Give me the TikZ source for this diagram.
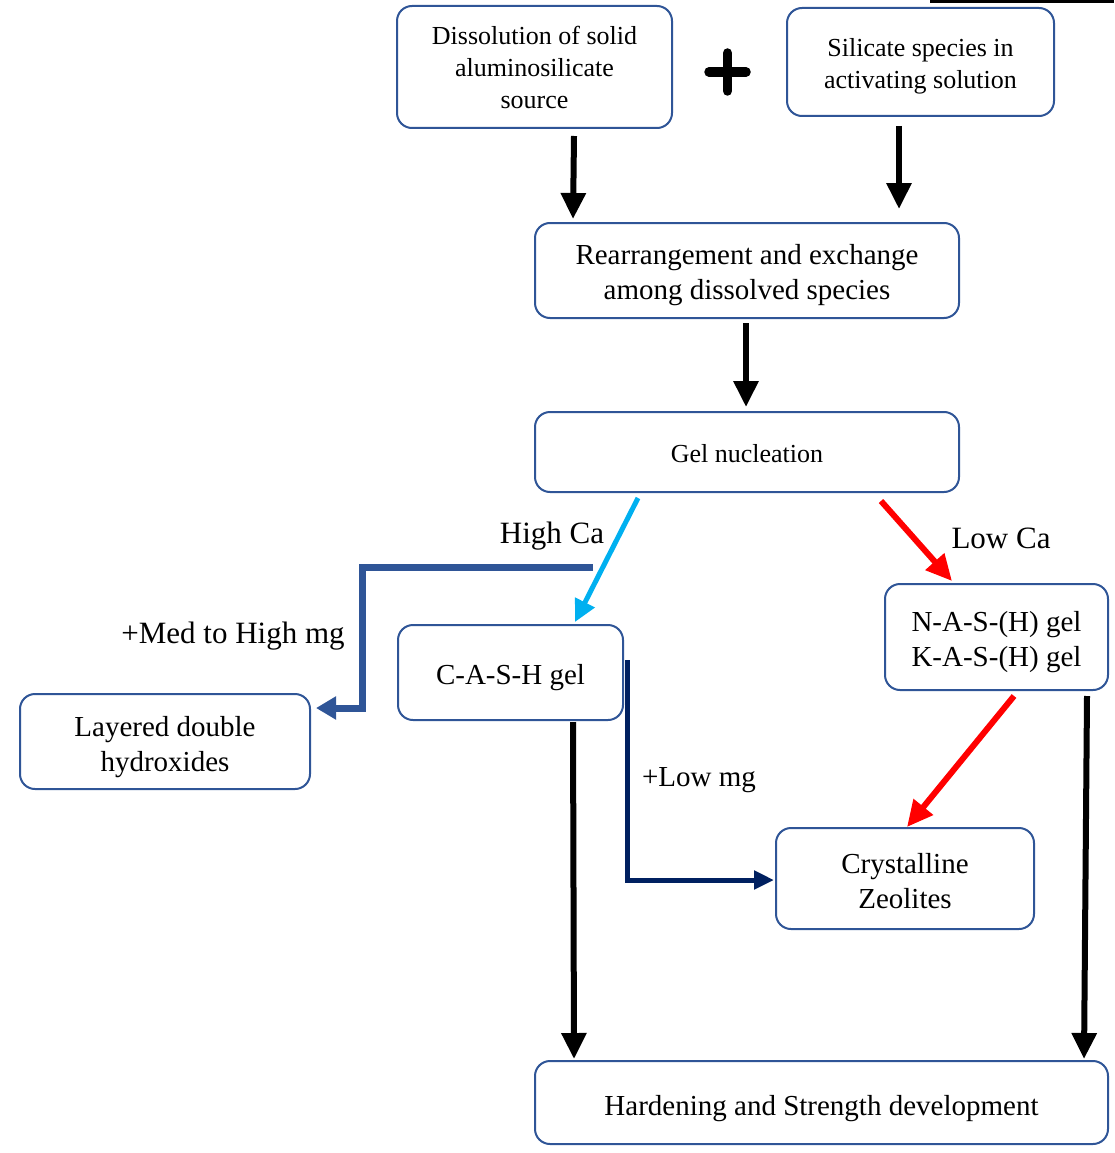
\documentclass[tikz,border=0pt]{standalone}
\usepackage{fontspec}
\setmainfont{Liberation Serif}
\usetikzlibrary{arrows.meta,calc}
\definecolor{boxblue}{HTML}{2F5597}
\definecolor{navyline}{HTML}{002060}
\definecolor{cyanline}{HTML}{00B0F0}
\definecolor{redline}{HTML}{FF0000}
\tikzset{
  box/.style={draw=boxblue, line width=2pt, rounded corners=15pt, fill=white,
    inner sep=0pt},
  txt/.style={align=center, inner sep=0pt},
  fsmall/.style={font=\fontsize{26}{32}\selectfont},
  fbig/.style={font=\fontsize{29}{35}\selectfont},
  blackarrow/.style={line width=6pt, black, -{Triangle[length=26pt,width=24pt]}},
  redarrow/.style={line width=6pt, redline, -{Triangle[length=26pt,width=24pt]}},
  cyanarrow/.style={line width=5pt, cyanline, -{Triangle[length=22pt,width=21pt]}},
  bluearrow/.style={line width=7pt, boxblue, -{Triangle[length=20pt,width=22pt]}},
  navyarrow/.style={line width=5pt, navyline, -{Triangle[length=20pt,width=18pt]}},
  lbl/.style={font=\fontsize{31}{36}\selectfont, inner sep=0pt},
}
\begin{document}
\begin{tikzpicture}[x=1pt,y=-1pt]
\useasboundingbox (0,0) rectangle (1114,1153);
\fill[black] (930,0) rectangle (1114,3.5);

\node[box, minimum width=275pt, minimum height=122pt,
  label={[txt, fsmall]center:{Dissolution of solid\\aluminosilicate\\source}}] (d1) at (534.5,67) {};
\node[box, minimum width=267pt, minimum height=108pt,
  label={[txt, fsmall, yshift=-4pt]center:{Silicate species in\\activating solution}}] (d2) at (920.5,62) {};
\node[box, minimum width=424pt, minimum height=95pt,
  label={[txt, fbig, yshift=-5pt]center:{Rearrangement and exchange\\among dissolved species}}] (re) at (747,270.5) {};
\node[box, minimum width=424pt, minimum height=80pt,
  label={[txt, fsmall, yshift=-2pt]center:{Gel nucleation}}] (gel) at (747,452) {};
\node[box, minimum width=225pt, minimum height=95pt,
  label={[txt, fbig, yshift=-5pt]center:{C-A-S-H gel}}] (cash) at (510.5,672.5) {};
\node[box, minimum width=223pt, minimum height=106pt,
  label={[txt, fbig, yshift=-5pt]center:{N-A-S-(H) gel\\K-A-S-(H) gel}}] (nash) at (996.5,637) {};
\node[box, minimum width=290pt, minimum height=95pt,
  label={[txt, fbig, yshift=-5.5pt]center:{Layered double\\hydroxides}}] (ldh) at (165,741.5) {};
\node[box, minimum width=258pt, minimum height=101pt,
  label={[txt, fbig, yshift=-3pt]center:{Crystalline\\Zeolites}}] (zeo) at (905,878.5) {};
\node[box, minimum width=573pt, minimum height=83pt,
  label={[txt, fbig, yshift=-6pt]center:{Hardening and Strength development}}] (hard) at (821.5,1102.5) {};

% plus sign
\draw[line width=9.5pt, line cap=round] (709,72) -- (746,72);
\draw[line width=9.5pt, line cap=round] (727.5,53) -- (727.5,91);

% labels
\node[lbl] (lhigh) at (552,536) {High Ca};
\node[lbl] (llow) at (1001,538) {Low Ca};
\node[lbl] (lmed) at (233,636) {+Med to High mg};
\node[lbl, font=\fontsize{29}{34}\selectfont] (llowmg) at (699,780) {+Low mg};

% connectors
\draw[blackarrow] ($(d1.south)+(39.5,7)$) -- ($(re.north west)+(39,-3)$);
\draw[blackarrow] ($(d2.south)+(-21.5,9)$) -- ($(re.north)+(152,-13)$);
\draw[blackarrow] ($(re.south)+(-1,4)$) -- ($(gel.north)+(-1,-4)$);
\draw[cyanarrow] ($(gel.south)+(-109,5)$) -- ($(cash.north)+(64.5,-2)$);
\draw[redarrow] ($(gel.south)+(134,8)$) -- ($(nash.north)+(-44.5,-2)$);
\coordinate (bstart) at ($(cash.north)+(82.5,-57)$);
\draw[bluearrow] (bstart) -- ++(-231,0) |- ($(ldh.east)+(5,-33.5)$);
\draw[navyarrow] ($(cash.east)+(3,-12.5)$) |- ($(zeo.west)+(-1,1.5)$);
\draw[redarrow] ($(nash.south)+(17.5,5)$) -- ($(zeo.north)+(2,0)$);
\draw[blackarrow] ($(cash.south)+(62.5,1)$) -- ($(hard.north west)+(40,-1)$);
\draw[blackarrow] ($(nash.south)+(90.5,5)$) -- ($(hard.north east)+(-25,-1)$);
\end{tikzpicture}
\end{document}
